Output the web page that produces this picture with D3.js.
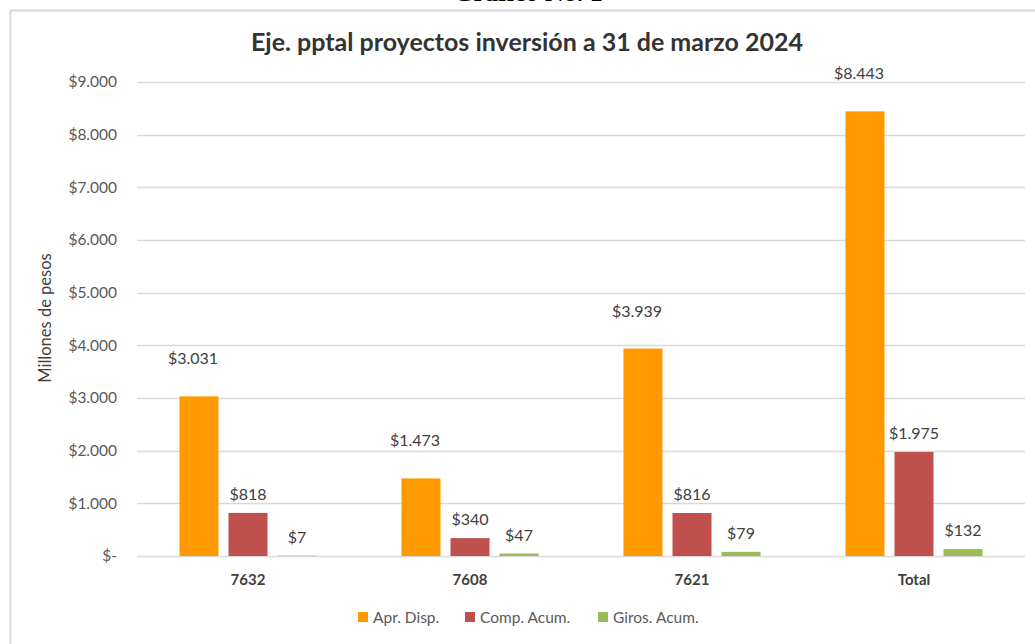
<html>
<head>
  <meta charset="utf-8">
  <title>Eje. pptal proyectos inversión</title>
</head>
<style>
  body {
    margin: 0;
    background: #fff;
  }
  svg text {
    font-family: Lato, "Open Sans", sans-serif;
  }
</style>
<body>
  <div id="chart"></div>
</body>
<script src="https://cdn.jsdelivr.net/npm/d3@7"></script>
<script>

  // datos (millones de pesos)
  let categorias = ["7632", "7608", "7621", "Total"];
  let series = ["Apr. Disp.", "Comp. Acum.", "Giros. Acum."];
  let aprDisp = [3031, 1473, 3939, 8443];
  let compAcum = [818, 340, 816, 1975];
  let girosAcum = [7, 47, 79, 132];
  let ticks = [0, 1000, 2000, 3000, 4000, 5000, 6000, 7000, 8000, 9000];

  let colores = ["#ff9900", "#c0504d", "#9bbb59"];
  let labelDy = [-32, -13, -13];
  let labelDx = [-6, 0, 0];

  let width = 1035, height = 644;
  let x0 = 137, x1 = 1025, yTop = 82, yBottom = 556;

  let svg = d3.select("#chart").append("svg")
    .attr("width", width)
    .attr("height", height);

  // marco
  svg.append("path")
    .attr("d", `M10.5,${height} V10.5 H${width}`)
    .attr("fill", "none")
    .attr("stroke", "#d9d9d9")
    .attr("stroke-width", 2);

  svg.append("text")
    .attr("x", 528).attr("y", 1)
    .attr("text-anchor", "middle")
    .style("font-family", "'Liberation Serif', serif")
    .style("font-weight", "bold")
    .style("font-size", "26px")
    .attr("fill", "#000")
    .text("Gráfico No. 1");

  svg.append("text")
    .attr("x", 527).attr("y", 51)
    .attr("text-anchor", "middle")
    .style("font-weight", "bold")
    .style("font-size", "25px")
    .attr("fill", "#333")
    .text("Eje. pptal proyectos inversión a 31 de marzo 2024");

  let x = d3.scaleBand()
    .domain(categorias)
    .range([x0, x1]);

  let y = d3.scaleLinear()
    .domain([0, 9000])
    .range([yBottom, yTop]);

  let fmt = v => v === 0 ? "$-" : "$" + d3.format(",")(v).replace(/,/g, ".");

  // rejilla
  svg.append("g")
    .selectAll("line")
    .data(ticks)
    .join("line")
    .attr("x1", x0).attr("x2", x1)
    .attr("y1", d => Math.round(y(d)) + 0.5)
    .attr("y2", d => Math.round(y(d)) + 0.5)
    .attr("stroke", "#d9d9d9")
    .attr("stroke-width", 1.5);

  let yAxis = svg.append("g")
    .attr("transform", `translate(${x0 - 20},0)`)
    .call(d3.axisLeft(y).tickValues(ticks).tickSize(0).tickPadding(0).tickFormat(fmt));
  yAxis.select(".domain").remove();
  yAxis.selectAll("text")
    .style("font-family", "Lato, sans-serif")
    .style("font-size", "15.5px")
    .attr("fill", "#595959");

  svg.append("text")
    .attr("transform", `translate(51,318) rotate(-90)`)
    .attr("text-anchor", "middle")
    .style("font-size", "16.5px")
    .attr("fill", "#404040")
    .text("Millones de pesos");

  let xAxis = svg.append("g")
    .attr("transform", `translate(0,${yBottom})`)
    .call(d3.axisBottom(x).tickSize(0).tickPadding(18));
  xAxis.select(".domain").remove();
  xAxis.selectAll("text")
    .style("font-family", "Lato, sans-serif")
    .style("font-size", "15px")
    .style("font-weight", "bold")
    .attr("fill", "#404040");

  let valores = [aprDisp, compAcum, girosAcum];
  let xs = d3.scaleBand()
    .domain(series)
    .range([0, x.bandwidth()])
    .paddingInner(0.204)
    .paddingOuter(0.867);

  series.forEach((s, si) => {
    let g = svg.append("g");
    g.selectAll("rect")
      .data(valores[si])
      .join("rect")
      .attr("x", (d, i) => x(categorias[i]) + xs(s))
      .attr("width", xs.bandwidth())
      .attr("y", d => y(d))
      .attr("height", d => y(0) - y(d))
      .attr("fill", colores[si]);
    g.selectAll("text")
      .data(valores[si])
      .join("text")
      .attr("x", (d, i) => x(categorias[i]) + xs(s) + xs.bandwidth() / 2 + labelDx[si])
      .attr("y", d => y(d) + labelDy[si])
      .attr("text-anchor", "middle")
      .style("font-size", "16px")
      .attr("fill", "#404040")
      .text(fmt);
  });

  // leyenda
  let leyX = [358, 465, 598];
  let ley = svg.append("g");
  series.forEach((s, si) => {
    ley.append("rect")
      .attr("x", leyX[si]).attr("y", 612)
      .attr("width", 10).attr("height", 10)
      .attr("fill", colores[si]);
    ley.append("text")
      .attr("x", leyX[si] + 15).attr("y", 623)
      .style("font-size", "15.5px")
      .attr("fill", "#595959")
      .text(s);
  });

</script>
</html>
